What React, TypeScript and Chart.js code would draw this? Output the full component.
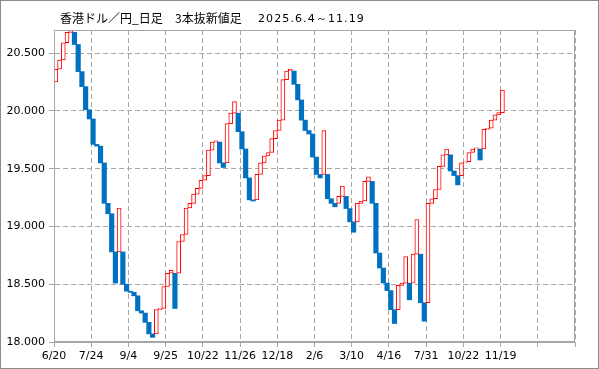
import React, { useEffect, useRef } from 'react';
import { Chart, registerables } from 'chart.js';

Chart.register(...registerables);

const titleMain = '香港ドル／円_日足';
const titleKind = '3本抜新値足';
const titleRange = '2025.6.4～11.19';

const xTickLabels = ['6/20', '7/24', '9/4', '9/25', '10/22', '11/26', '12/18', '2/6', '3/10', '4/16', '7/31', '10/22', '11/19', '', ''];

// each bar of the 3-line-break chart: opening level and closing level
const opens = [
  20.25, 20.36, 20.44, 20.59, 20.68, 20.68, 20.575, 20.34, 20.21, 20.01,
  19.93, 19.71, 19.695, 19.55, 19.20, 19.11, 18.78, 18.78, 18.78, 18.50,
  18.44, 18.43, 18.40, 18.27, 18.25, 18.17, 18.07, 18.07, 18.28, 18.29,
  18.48, 18.595, 18.595, 18.595, 18.87, 18.93, 19.16, 19.20, 19.28, 19.33,
  19.40, 19.44, 19.66, 19.73, 19.73, 19.55, 19.55, 19.89, 19.98, 19.98,
  19.82, 19.67, 19.42, 19.23, 19.23, 19.45, 19.55, 19.61, 19.64, 19.76,
  19.83, 19.92, 20.27, 20.345, 20.345, 20.23, 20.095, 19.92, 19.83, 19.80,
  19.60, 19.45, 19.45, 19.45, 19.24, 19.20, 19.20, 19.26, 19.26, 19.155,
  19.04, 19.04, 19.20, 19.22, 19.39, 19.39, 19.20, 18.77, 18.64, 18.51,
  18.445, 18.28, 18.28, 18.49, 18.51, 18.51, 18.51, 18.76, 18.76, 18.34,
  18.34, 19.20, 19.24, 19.32, 19.52, 19.62, 19.62, 19.48, 19.44, 19.44,
  19.55, 19.56, 19.64, 19.67, 19.67, 19.67, 19.84, 19.85, 19.92, 19.965,
  19.985,
];
const closes = [
  20.36, 20.44, 20.59, 20.68, 20.72, 20.575, 20.34, 20.21, 20.01, 19.93,
  19.71, 19.695, 19.55, 19.20, 19.11, 18.78, 18.51, 19.16, 18.50, 18.44,
  18.43, 18.40, 18.27, 18.25, 18.17, 18.07, 18.04, 18.28, 18.29, 18.48,
  18.595, 18.62, 18.29, 18.87, 18.93, 19.16, 19.20, 19.28, 19.33, 19.40,
  19.44, 19.66, 19.73, 19.74, 19.55, 19.51, 19.89, 19.98, 20.08, 19.82,
  19.67, 19.42, 19.23, 19.22, 19.45, 19.55, 19.61, 19.64, 19.76, 19.83,
  19.92, 20.27, 20.345, 20.36, 20.23, 20.095, 19.92, 19.83, 19.80, 19.60,
  19.45, 19.42, 19.83, 19.24, 19.20, 19.17, 19.26, 19.35, 19.155, 19.04,
  18.95, 19.20, 19.22, 19.39, 19.43, 19.20, 18.77, 18.64, 18.51, 18.445,
  18.28, 18.16, 18.49, 18.51, 18.74, 18.365, 18.76, 19.06, 18.34, 18.18,
  19.20, 19.24, 19.32, 19.52, 19.62, 19.67, 19.48, 19.44, 19.36, 19.55,
  19.56, 19.64, 19.67, 19.68, 19.575, 19.84, 19.85, 19.92, 19.965, 19.985,
  20.18,
];

const Y_MIN = 18;
const Y_MAX = 20.7;
const Y_STEP = 0.5;
const X_SLOTS = 140;
const X_STEP = 10;

const GRID = '#a6a6a6';
const UP_COLOR = '#ff0000';
const DOWN_COLOR = '#0070c0';

const framePlugin = {
  id: 'frame',
  beforeDraw(chart: any) {
    const { ctx, width, height } = chart;
    ctx.save();
    ctx.fillStyle = '#ffffff';
    ctx.fillRect(0, 0, width, height);
    ctx.restore();
  },
  afterDraw(chart: any) {
    const { ctx, chartArea: a, width, height } = chart;
    ctx.save();
    ctx.strokeStyle = GRID;
    ctx.lineWidth = 1;
    ctx.strokeRect(Math.round(a.left) + 0.5, Math.round(a.top) + 0.5, Math.round(a.right - a.left) - 1, Math.round(a.bottom - a.top) - 1);
    ctx.strokeStyle = '#8c8c8c';
    ctx.strokeRect(0.5, 0.5, width - 1, height - 1);
    ctx.restore();
  },
};

export default function App() {
  const canvasRef = useRef<HTMLCanvasElement | null>(null);

  useEffect(() => {
    if (!canvasRef.current) return;
    const upData: any[] = [];
    const downData: any[] = [];
    opens.forEach((o, i) => {
      const c = closes[i];
      const pt = { x: i + 0.5, y: [o, c] };
      if (c >= o) upData.push(pt);
      else downData.push(pt);
    });

    const tickFont = { family: '"DejaVu Sans", Verdana, sans-serif', size: 11 };

    const chart = new Chart(canvasRef.current, {
      type: 'bar',
      data: {
        datasets: [
          {
            label: 'up',
            data: upData,
            grouped: false,
            barThickness: 4,
            backgroundColor: '#ffffff',
            borderColor: UP_COLOR,
            borderWidth: 1,
            borderSkipped: false,
            order: 0,
          } as any,
          {
            label: 'down',
            data: downData,
            grouped: false,
            barThickness: 4.5,
            backgroundColor: DOWN_COLOR,
            borderWidth: 0,
            order: 1,
          } as any,
        ],
      },
      options: {
        responsive: false,
        animation: false,
        layout: { padding: { top: 30, right: 24, left: 0, bottom: 0 } },
        plugins: {
          legend: { display: false },
          tooltip: { enabled: false },
          title: { display: false },
        },
        scales: {
          x: {
            type: 'linear',
            min: 0,
            max: X_SLOTS,
            offset: false,
            afterFit: (s: any) => { s.height = 27; },
            ticks: {
              stepSize: X_STEP,
              autoSkip: false,
              maxRotation: 0,
              minRotation: 0,
              includeBounds: false,
              padding: 3,
              color: '#000000',
              font: tickFont,
              callback: (v: any) => xTickLabels[Math.round(Number(v) / X_STEP)] ?? '',
            },
            grid: {
              color: GRID,
              offset: false,
              tickLength: 5,
              tickColor: GRID,
              tickBorderDash: [],
            },
            border: { display: true, color: GRID, dash: [5, 3] },
          } as any,
          y: {
            type: 'linear',
            min: Y_MIN,
            max: Y_MAX,
            afterFit: (s: any) => { s.width = 54; },
            ticks: {
              stepSize: Y_STEP,
              includeBounds: false,
              padding: 4,
              color: '#000000',
              font: tickFont,
              callback: (v: any) => Number(v).toFixed(3),
            },
            grid: {
              color: GRID,
              tickLength: 5,
              tickColor: GRID,
              tickBorderDash: [],
            },
            border: { display: true, color: GRID, dash: [5, 3] },
          } as any,
        },
      },
      plugins: [framePlugin],
    });
    return () => chart.destroy();
  }, []);

  const cjk = '"Noto Sans CJK JP", "Noto Sans", sans-serif';
  const span: React.CSSProperties = { position: 'absolute', whiteSpace: 'nowrap', lineHeight: '12px', color: '#000' };

  return (
    <div style={{ position: 'absolute', left: 0, top: 0, width: 599, height: 369, background: '#fff' }}>
      <canvas ref={canvasRef} width={599} height={369} style={{ display: 'block', width: 599, height: 369 }} />
      <span style={{ ...span, left: 60, top: 12, fontFamily: cjk, fontSize: 12 }}>{titleMain}</span>
      <span style={{ ...span, left: 175, top: 12, fontFamily: cjk, fontSize: 12 }}>{titleKind}</span>
      <span style={{ ...span, left: 258, top: 13, fontFamily: '"DejaVu Sans", sans-serif', fontSize: 11, letterSpacing: '1.1px' }}>{titleRange}</span>
    </div>
  );
}
